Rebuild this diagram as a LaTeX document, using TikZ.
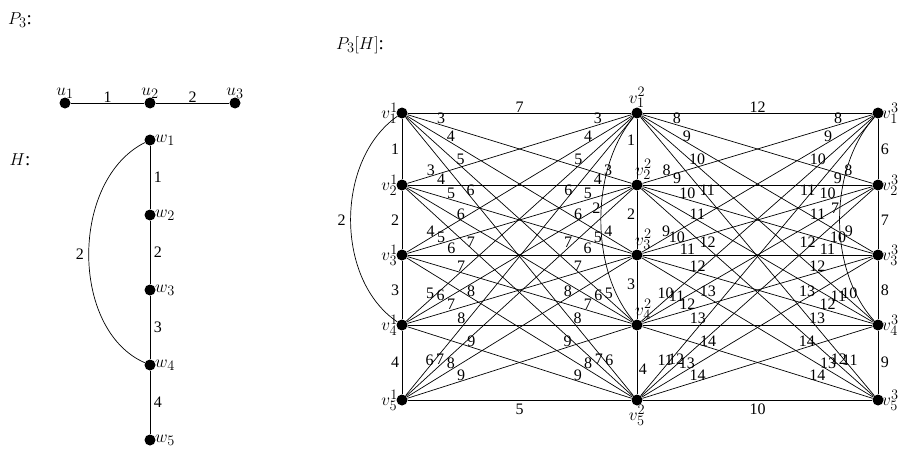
\documentclass[tikz,border=0pt]{standalone}
\usepackage{fontspec}
\setmainfont{Liberation Serif}
\begin{document}
\begin{tikzpicture}[x=1pt,y=-1pt,
  dot/.style={circle,fill=black,inner sep=0pt,minimum size=11pt},
  lab/.style={font=\fontsize{16}{16}\selectfont,inner sep=0.5pt,above},
  nm/.style={font=\fontsize{19}{19}\selectfont,inner sep=1pt},
  ln/.style={line width=0.7pt}]
\useasboundingbox (0,0) rectangle (920,460);
\node[nm] (tP) at (20,20) {$P_3$:};
\node[nm] (tH) at (20,160) {$H$:};
\node[nm] (tPH) at (360,45) {$P_3[H]$:};
% P3
\node[dot] (u1) at (65,103) {}; \node[dot] (u2) at (150,103) {}; \node[dot] (u3) at (235,103) {};
\foreach \k in {1,2,3} \node[nm,above=3pt] (lu\k) at (u\k) {$u_\k$};
\draw[ln] (u1) -- node[lab]{1} (u2) -- node[lab]{2} (u3);
% H
\foreach \i/\y in {1/140,2/215,3/290,4/365,5/440} {\node[dot] (w\i) at (150,\y) {}; \node[nm,right=4pt] (lw\i) at (w\i) {$w_\i$};}
\draw[ln] (w1) -- node[lab,right=3pt]{1} (w2) -- node[lab,right=3pt]{2} (w3) -- node[lab,right=3pt]{3} (w4) -- node[lab,right=3pt]{4} (w5);
\draw[ln] (w1) .. controls (70,180) and (70,330) .. node[lab,left=4pt]{2} (w4);
% P3[H]
\foreach \j/\x in {1/402,2/637,3/878}
  \foreach \i/\y in {1/113,2/185,3/255,4/325,5/400}
    \node[dot] (v\i\j) at (\x,\y) {};
\foreach \i in {1,...,5} \node[nm,left=3pt] (l\i1) at (v\i1) {$v_\i^1$};
\foreach \i in {1,...,5} \node[nm,right=3pt] (l\i3) at (v\i3) {$v_\i^3$};
\node[nm,above=4pt] (l12) at (v12) {$v_1^2$};
\node[nm,anchor=south west] (l22) at ([xshift=-3pt,yshift=4pt]v22) {$v_2^2$};
\node[nm,anchor=south west] (l32) at ([xshift=-3pt,yshift=4pt]v32) {$v_3^2$};
\node[nm,anchor=south west] (l42) at ([xshift=-3pt,yshift=4pt]v42) {$v_4^2$};
\node[nm,below=4pt] (l52) at (v52) {$v_5^2$};
% vertical edges
\draw[ln] (v11) -- node[lab,left=2pt]{1} (v21) -- node[lab,left=2pt]{2} (v31) -- node[lab,left=2pt]{3} (v41) -- node[lab,left=2pt]{4} (v51);
\draw[ln] (v12) -- node[lab,left=1pt,pos=.35]{1} (v22) -- node[lab,left=1pt,pos=.4]{2} (v32) -- node[lab,left=1pt,pos=.4]{3} (v42) -- node[lab,right=1pt,pos=.6]{4} (v52);
\draw[ln] (v13) -- node[lab,right=2pt]{6} (v23) -- node[lab,right=2pt]{7} (v33) -- node[lab,right=2pt]{8} (v43) -- node[lab,right=2pt]{9} (v53);
\draw[ln] (v11) .. controls (335,160) and (335,280) .. node[lab,left=4pt]{2} (v41);
\draw[ln] (v12) .. controls (590,170) and (590,270) .. node[lab,pos=.45,left=0pt]{2} (v42);
\draw[ln] (v13) .. controls (828,170) and (828,270) .. node[lab,pos=.45,left=0pt]{7} (v43);
% bipartite edges
\foreach \a in {1,...,5}{
  \foreach \b in {1,...,5}{
    \pgfmathtruncatemacro\s{\a+\b}
    \pgfmathtruncatemacro\t{\a+\b+5}
    \pgfmathtruncatemacro\sp{(\a==\b)&&((\a==1)||(\a==5))}
    \pgfmathsetmacro\pa{0.06+0.045*\b}
    \pgfmathsetmacro\pb{0.94-0.045*\a}
    \ifnum\sp=0
      \draw[ln] (v\a1) -- node[lab,pos=\pa]{\s} node[lab,pos=\pb]{\s} (v\b2);
      \draw[ln] (v\a2) -- node[lab,pos=\pa]{\t} node[lab,pos=\pb]{\t} (v\b3);
    \fi
  }
}
\draw[ln] (v11) -- node[lab]{7} (v12) -- node[lab]{12} (v13);
\draw[ln] (v51) -- node[lab,below=3pt]{5} (v52) -- node[lab,below=3pt]{10} (v53);
\end{tikzpicture}
\end{document}
